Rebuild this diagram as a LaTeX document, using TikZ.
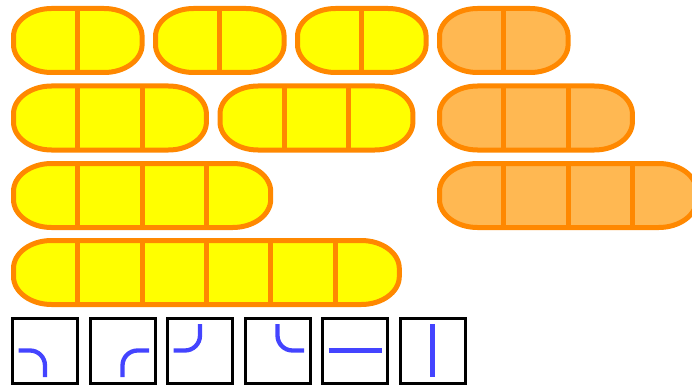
\documentclass[tikz,border=0pt]{standalone}
\usetikzlibrary{calc}
\definecolor{capyel}{RGB}{255,255,0}
\definecolor{caporg}{RGB}{255,184,82}
\definecolor{capline}{RGB}{255,136,0}
\definecolor{pathblue}{RGB}{68,68,255}
\tikzset{
  capsulestyle/.style={draw=capline, line width=5pt, line join=round},
  tilebox/.style={draw=black, line width=3pt},
  tilepath/.style={draw=pathblue, line width=4.3pt, rounded corners=15pt}
}
\newcommand\mycapsule[4]{%
  % #1 = left x (px), #2 = top y (px), #3 = cells, #4 = fill colour
  \pgfmathsetmacro\cX{#1}%
  \pgfmathsetmacro\cY{-#2}%
  \pgfmathsetmacro\cW{64.3*#3}%
  \pgfmathsetmacro\cH{64}%
  \pgfmathsetmacro\rx{38}%
  \pgfmathsetmacro\ry{28}%
  \path[capsulestyle, fill=#4]
    (\cX+\rx,\cY) -- (\cX+\cW-\rx,\cY)
    arc[start angle=90, end angle=0, x radius=\rx, y radius=\ry]
    -- (\cX+\cW,\cY-\cH+\ry)
    arc[start angle=0, end angle=-90, x radius=\rx, y radius=\ry]
    -- (\cX+\rx,\cY-\cH)
    arc[start angle=270, end angle=180, x radius=\rx, y radius=\ry]
    -- (\cX,\cY-\ry)
    arc[start angle=180, end angle=90, x radius=\rx, y radius=\ry]
    -- cycle;
  \pgfmathtruncatemacro\nm{#3-1}%
  \foreach \i in {1,...,\nm}{%
    \draw[capline, line width=5pt] (\cX+\i*64.3,\cY) -- (\cX+\i*64.3,\cY-\cH);
  }%
}
\begin{document}
\begin{tikzpicture}[x=1pt,y=1pt]
\useasboundingbox (0,0) rectangle (692,-385);
\clip (0,0) rectangle (692,-385);
% row 1
\mycapsule{13.5}{8.5}{2}{capyel}
\mycapsule{155.5}{8.5}{2}{capyel}
\mycapsule{297.5}{8.5}{2}{capyel}
\mycapsule{439.5}{8.5}{2}{caporg}
% row 2
\mycapsule{13.5}{86}{3}{capyel}
\mycapsule{220}{86}{3}{capyel}
\mycapsule{439.5}{86}{3}{caporg}
% row 3
\mycapsule{13.5}{163.5}{4}{capyel}
\mycapsule{439.5}{163.5}{4}{caporg}
% row 4
\mycapsule{13.5}{240.5}{6}{capyel}
% tiles
\foreach \k in {0,...,5}{
  \draw[tilebox] (12.5+77.5*\k,-318) rectangle ++(65,-65);
}
% tile 1: left to bottom
\begin{scope}[shift={(12.5,-318)}]
  \draw[tilepath] (6,-32.5) -- (32.5,-32.5) -- (32.5,-59);
\end{scope}
% tile 2: bottom to right
\begin{scope}[shift={(90,-318)}]
  \draw[tilepath] (32.5,-59) -- (32.5,-32.5) -- (59,-32.5);
\end{scope}
% tile 3: left to top
\begin{scope}[shift={(167.5,-318)}]
  \draw[tilepath] (6,-32.5) -- (32.5,-32.5) -- (32.5,-6);
\end{scope}
% tile 4: top to right
\begin{scope}[shift={(245,-318)}]
  \draw[tilepath] (32.5,-6) -- (32.5,-32.5) -- (59,-32.5);
\end{scope}
% tile 5: horizontal
\begin{scope}[shift={(322.5,-318)}]
  \draw[tilepath] (6,-32.5) -- (59,-32.5);
\end{scope}
% tile 6: vertical
\begin{scope}[shift={(400,-318)}]
  \draw[tilepath] (32.5,-6) -- (32.5,-59);
\end{scope}
\end{tikzpicture}
\end{document}
